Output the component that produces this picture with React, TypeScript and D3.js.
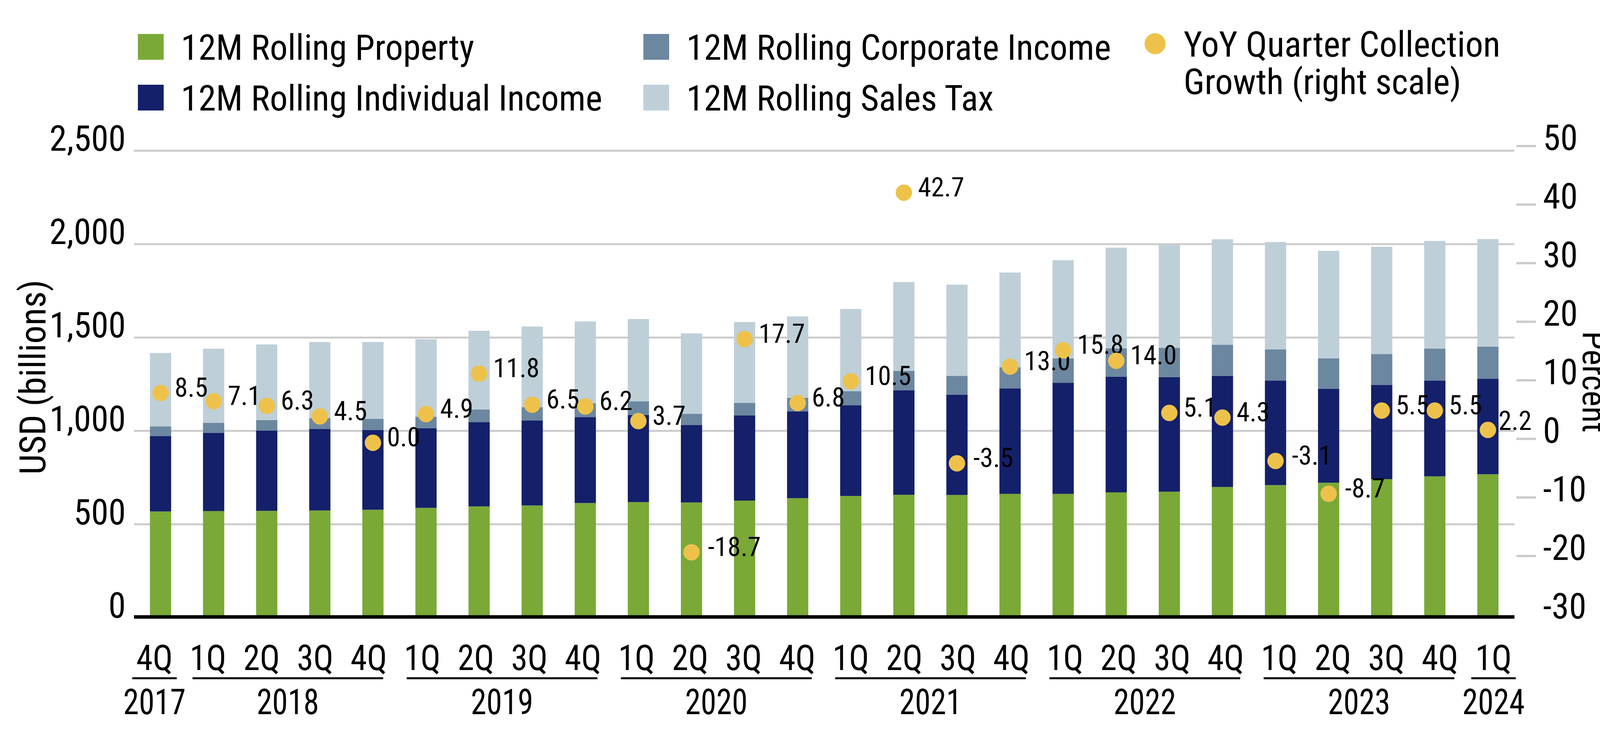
import * as d3 from "d3";
import React from "react";

// quarters shown on the x axis
const quarters = [
  "4Q17",
  "1Q18", "2Q18", "3Q18", "4Q18",
  "1Q19", "2Q19", "3Q19", "4Q19",
  "1Q20", "2Q20", "3Q20", "4Q20",
  "1Q21", "2Q21", "3Q21", "4Q21",
  "1Q22", "2Q22", "3Q22", "4Q22",
  "1Q23", "2Q23", "3Q23", "4Q23",
  "1Q24",
];
const years = ["2017", "2018", "2019", "2020", "2021", "2022", "2023", "2024"];
const yearFirst = ["4Q17", "1Q18", "1Q19", "1Q20", "1Q21", "1Q22", "1Q23", "1Q24"];
const yearLast = ["4Q17", "4Q18", "4Q19", "4Q20", "4Q21", "4Q22", "4Q23", "1Q24"];

// USD billions, 12M rolling
const property = [569, 571, 572, 574, 578, 588, 596, 601, 614, 619, 617, 627, 640, 652, 658, 657, 663, 663, 671, 675, 700, 710, 723, 742, 757, 768];
const individual = [403, 419, 430, 437, 427, 426, 451, 455, 460, 466, 415, 456, 465, 485, 560, 537, 565, 595, 619, 613, 595, 560, 503, 504, 513, 511];
const corporate = [52, 53, 56, 57, 60, 62, 68, 71, 74, 73, 60, 67, 72, 76, 103, 101, 113, 130, 152, 157, 166, 166, 163, 165, 171, 172];
const sales = [393, 397, 405, 408, 411, 415, 421, 432, 438, 441, 430, 433, 436, 440, 476, 488, 507, 526, 539, 551, 565, 575, 575, 575, 576, 576];

// YoY quarter collection growth, percent (right scale)
const growth = [8.5, 7.1, 6.3, 4.5, 0.0, 4.9, 11.8, 6.5, 6.2, 3.7, -18.7, 17.7, 6.8, 10.5, 42.7, -3.5, 13.0, 15.8, 14.0, 5.1, 4.3, -3.1, -8.7, 5.5, 5.5, 2.2];

const leftTicks = [0, 500, 1000, 1500, 2000, 2500];
const rightTicks = [50, 40, 30, 20, 10, 0, -10, -20, -30];

const seriesKeys = ["property", "individual", "corporate", "sales"];
const seriesNames = [
  "12M Rolling Property",
  "12M Rolling Individual Income",
  "12M Rolling Corporate Income",
  "12M Rolling Sales Tax",
];
const colors = ["#7AA937", "#14206A", "#6C87A0", "#BECFD8"];
const dotColor = "#EEC24A";

const FONT = "'Liberation Sans Narrow', 'Arial Narrow', 'Roboto Condensed', sans-serif";

const W = 4167;
const H = 1867;
const left = 343;
const right = 3877;

export default function App() {
  const rows = quarters.map((q, i) => ({
    q,
    property: property[i],
    individual: individual[i],
    corporate: corporate[i],
    sales: sales[i],
  }));
  const stacked = d3.stack<any>().keys(seriesKeys)(rows);

  const x = d3.scaleBand().domain(quarters).range([left, right]).paddingInner(0.6).paddingOuter(0.3);
  // the category labels sit on a slightly wider spread than the bars
  const xl = d3.scaleBand().domain(quarters).range([327, 3892]);
  const yL = d3.scaleLinear().domain([0, 2500]).range([1582, 386]);
  const yR = d3.scaleLinear().domain([-30, 50]).range([1584, 384]);
  const fmt = d3.format(",");

  const cx = (q: string) => (x(q) as number) + x.bandwidth() / 2;
  const lx = (q: string) => (xl(q) as number) + xl.bandwidth() / 2;

  return (
    <svg
      width={W}
      height={H}
      viewBox={`0 0 ${W} ${H}`}
      style={{ position: "absolute", left: 0, top: 0, background: "#fff" }}
      fontFamily={FONT}
    >
      {/* legend */}
      {seriesNames.map((name, i) => {
        const col = i === 0 || i === 1 ? 0 : 1;
        const row = i === 0 || i === 2 ? 0 : 1;
        const sx = col === 0 ? 353 : 1647;
        const sy = row === 0 ? 87 : 217;
        return (
          <g key={name}>
            <rect x={sx} y={sy} width={66} height={66} fill={colors[i]} />
            <text x={sx + 110} y={sy + 66} fontSize={91}>
              {name}
            </text>
          </g>
        );
      })}
      <circle cx={2957} cy={112} r={27} fill={dotColor} />
      <text fontSize={91}>
        <tspan x={3030} y={145}>YoY Quarter Collection</tspan>
        <tspan x={3030} y={241}>Growth (right scale)</tspan>
      </text>

      {/* gridlines */}
      {leftTicks.filter((t) => t > 0).map((t) => (
        <line key={t} x1={left} x2={right} y1={yL(t)} y2={yL(t)} stroke="#CCCCCC" strokeWidth={5} />
      ))}

      {/* stacked bars */}
      {stacked.map((s, si) =>
        s.map((d, i) => (
          <rect
            key={`${si}-${i}`}
            x={x(quarters[i])}
            width={x.bandwidth()}
            y={yL(d[1])}
            height={yL(d[0]) - yL(d[1])}
            fill={colors[si]}
          />
        ))
      )}

      {/* baseline */}
      <line x1={left} x2={right} y1={1580} y2={1580} stroke="#000" strokeWidth={9} />

      {/* left axis labels */}
      {leftTicks.map((t) => (
        <text key={t} x={322} y={yL(t)} textAnchor="end" fontSize={90}>
          {fmt(t)}
        </text>
      ))}
      <text transform={`translate(116,966) rotate(-90)`} textAnchor="middle" fontSize={93}>
        USD (billions)
      </text>

      {/* right axis */}
      {rightTicks.filter((t) => t > -30).map((t) => (
        <line key={t} x1={3882} x2={3932} y1={yR(t) - 10} y2={yR(t) - 10} stroke="#CCCCCC" strokeWidth={6} />
      ))}
      {rightTicks.map((t) => (
        <text key={t} x={3950} y={yR(t)} fontSize={90}>
          {t}
        </text>
      ))}
      <text transform={`translate(4052,978) rotate(90)`} textAnchor="middle" fontSize={86}>
        Percent
      </text>

      {/* growth dots and labels */}
      {growth.map((g, i) => {
        const q = quarters[i];
        const last = i === growth.length - 1;
        const dx = last ? 27 : g < 0 ? 42 : 36;
        const dy = last ? 0 : 9;
        return (
          <g key={q}>
            <circle cx={cx(q)} cy={yR(g)} r={21} fill={dotColor} />
            <text x={cx(q) + dx} y={yR(g) + dy} fontSize={68}>
              {g.toFixed(1)}
            </text>
          </g>
        );
      })}

      {/* category axis */}
      {quarters.map((q) => (
        <text
          key={q}
          transform={`translate(${lx(q)},1716) scale(0.95,1)`}
          textAnchor="middle"
          fontSize={90}
        >
          {q.slice(0, 2)}
        </text>
      ))}
      {years.map((yr, i) => {
        const a = lx(yearFirst[i]);
        const b = lx(yearLast[i]);
        const x1 = a === b ? a - 57 : a - 40;
        const x2 = a === b ? b + 57 : b + 37;
        return (
          <g key={yr}>
            <line x1={x1} x2={x2} y1={1737} y2={1737} stroke="#000" strokeWidth={5} />
            <text
              transform={`translate(${(x1 + x2) / 2},1829) scale(0.9,1)`}
              textAnchor="middle"
              fontSize={90}
            >
              {yr}
            </text>
          </g>
        );
      })}
    </svg>
  );
}
